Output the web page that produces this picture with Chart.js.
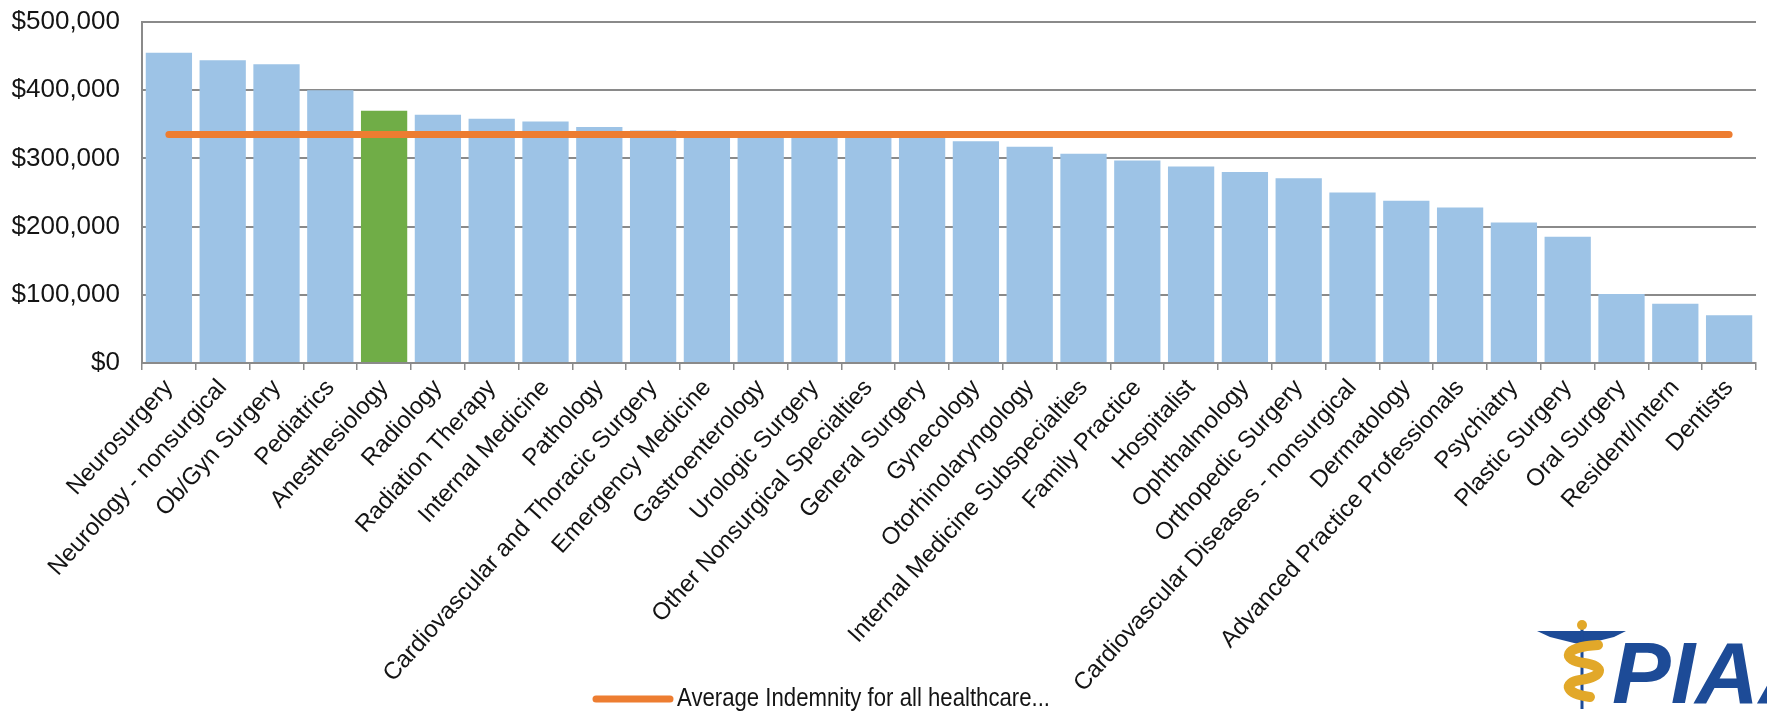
<!DOCTYPE html>
<html>
<head>
<meta charset="utf-8">
<title>Average Indemnity by Specialty</title>
<script src="https://cdn.jsdelivr.net/npm/chart.js@4.4.1/dist/chart.umd.min.js"></script>
<style>
  html, body { margin: 0; padding: 0; background: #ffffff; }
  #wrap { width: 1767px; height: 714px; position: relative; }
</style>
</head>
<body>
<div id="wrap"><canvas id="chart" width="1767" height="714"></canvas></div>
<script>
// Specialties, sorted by average indemnity payment
const categories = [
  'Neurosurgery', 'Neurology - nonsurgical', 'Ob/Gyn Surgery', 'Pediatrics',
  'Anesthesiology', 'Radiology', 'Radiation Therapy', 'Internal Medicine',
  'Pathology', 'Cardiovascular and Thoracic Surgery', 'Emergency Medicine',
  'Gastroenterology', 'Urologic Surgery', 'Other Nonsurgical Specialties',
  'General Surgery', 'Gynecology', 'Otorhinolaryngology',
  'Internal Medicine Subspecialties', 'Family Practice', 'Hospitalist',
  'Ophthalmology', 'Orthopedic Surgery', 'Cardiovascular Diseases - nonsurgical',
  'Dermatology', 'Advanced Practice Professionals', 'Psychiatry',
  'Plastic Surgery', 'Oral Surgery', 'Resident/Intern', 'Dentists'
];

// Average indemnity per specialty (USD)
const indemnity = [
  455000, 444000, 438000, 400000,
  370000, 364000, 358000, 354000,
  346000, 341000, 339000,
  337000, 335000, 334000,
  333000, 325000, 317000,
  307000, 297000, 288000,
  280000, 271000, 250000,
  238000, 228000, 206000,
  185000, 101000, 87000, 70000
];

// Average indemnity across all healthcare specialties (USD)
const averageAll = 335000;
const averageLabel = 'Average Indemnity for all healthcare...';

// Value axis ticks
const yTicks = [0, 100000, 200000, 300000, 400000, 500000];

const highlighted = 'Anesthesiology';

const BLUE = '#9DC3E6';
const GREEN = '#70AD47';
const ORANGE = '#ED7D31';
const GRID = '#8a8a8a';
const TEXT = '#141414';
const NAVY = '#1D4B97';
const GOLD = '#E2A829';
const FONT = "'Liberation Sans', Arial, sans-serif";

const barColors = categories.map(c => c === highlighted ? GREEN : BLUE);

// Legend entry for the average line, drawn below the axis labels
const averageLegend = {
  id: 'averageLegend',
  afterDraw(chart) {
    const ctx = chart.ctx;
    ctx.save();
    const y = 699;
    ctx.strokeStyle = ORANGE;
    ctx.lineWidth = 7;
    ctx.lineCap = 'round';
    ctx.beginPath();
    ctx.moveTo(596, y);
    ctx.lineTo(670, y);
    ctx.stroke();

    ctx.fillStyle = TEXT;
    ctx.textBaseline = 'middle';
    ctx.textAlign = 'left';
    ctx.font = "25px 'Liberation Sans Narrow', 'Liberation Sans', Arial, sans-serif";
    const w = ctx.measureText(averageLabel).width;
    const target = 373;
    const sx = w > target ? target / w : 1;
    ctx.translate(677, y);
    ctx.scale(sx, 1);
    ctx.fillText(averageLabel, 0, 0);
    ctx.restore();
  }
};

// PIAA mark in the lower right corner
const piaaMark = {
  id: 'piaaMark',
  afterDraw(chart) {
    const ctx = chart.ctx;
    ctx.save();
    const cx = 1582;
    // wings
    ctx.fillStyle = NAVY;
    ctx.beginPath();
    ctx.moveTo(1537, 631);
    ctx.lineTo(1626, 631);
    ctx.lineTo(1614, 637);
    ctx.lineTo(cx + 4, 644);
    ctx.lineTo(cx - 4, 644);
    ctx.lineTo(1550, 637);
    ctx.closePath();
    ctx.fill();
    // staff
    ctx.strokeStyle = NAVY;
    ctx.lineWidth = 3;
    ctx.beginPath();
    ctx.moveTo(cx, 626);
    ctx.lineTo(cx, 709);
    ctx.stroke();
    // knob
    ctx.fillStyle = GOLD;
    ctx.beginPath();
    ctx.arc(cx, 625, 5, 0, Math.PI * 2);
    ctx.fill();
    // serpent
    ctx.strokeStyle = GOLD;
    ctx.lineWidth = 10;
    ctx.lineCap = 'round';
    ctx.beginPath();
    ctx.moveTo(1598, 645);
    ctx.bezierCurveTo(1562, 647, 1562, 660, 1584, 663);
    ctx.bezierCurveTo(1606, 666, 1603, 677, 1580, 680);
    ctx.bezierCurveTo(1562, 683, 1566, 694, 1590, 697);
    ctx.stroke();
    // lettering
    ctx.fillStyle = NAVY;
    ctx.font = "italic bold 88px 'Liberation Sans', Arial, sans-serif";
    ctx.textBaseline = 'alphabetic';
    ctx.textAlign = 'left';
    ctx.fillText('PIAA', 1612, 703);
    ctx.restore();
  }
};

new Chart(document.getElementById('chart'), {
  data: {
    labels: categories,
    datasets: [
      {
        type: 'line',
        label: averageLabel,
        data: categories.map(() => averageAll),
        borderColor: ORANGE,
        backgroundColor: ORANGE,
        borderWidth: 7,
        borderCapStyle: 'round',
        pointRadius: 0,
        order: 0
      },
      {
        type: 'bar',
        label: 'Average Indemnity',
        data: indemnity,
        backgroundColor: barColors,
        borderWidth: 0,
        barPercentage: 0.86,
        categoryPercentage: 1.0,
        order: 1
      }
    ]
  },
  options: {
    responsive: false,
    animation: false,
    devicePixelRatio: 1,
    layout: { padding: { left: 0, right: 11, top: 22, bottom: 0 } },
    plugins: {
      legend: { display: false },
      tooltip: { enabled: false }
    },
    scales: {
      x: {
        grid: {
          offset: true,
          drawOnChartArea: false,
          drawTicks: true,
          tickLength: 7,
          color: GRID,
          lineWidth: 1.5
        },
        border: { color: GRID, width: 2 },
        ticks: {
          autoSkip: false,
          maxRotation: 48,
          minRotation: 48,
          padding: 4,
          color: TEXT,
          font: { family: FONT, size: 24 }
        },
        afterFit(scale) {
          scale.height = 351;
          scale.paddingTop = 0;
          scale.paddingBottom = 0;
        }
      },
      y: {
        min: 0,
        max: 500000,
        afterBuildTicks(scale) { scale.ticks = yTicks.map(v => ({ value: v })); },
        ticks: {
          padding: 22,
          color: TEXT,
          font: { family: FONT, size: 26 },
          callback: v => '$' + Number(v).toLocaleString('en-US')
        },
        grid: { color: GRID, lineWidth: 2, drawTicks: false },
        border: { color: GRID, width: 2 },
        afterFit(scale) {
          scale.width = 142;
          scale.paddingTop = 0;
          scale.paddingBottom = 0;
        }
      }
    }
  },
  plugins: [averageLegend, piaaMark]
});
</script>
</body>
</html>
